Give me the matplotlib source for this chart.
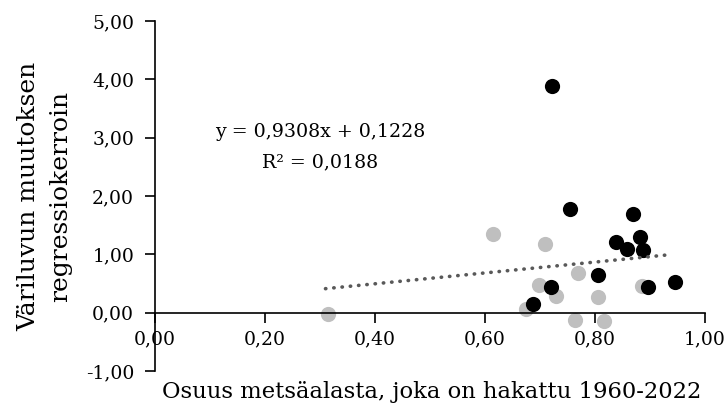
import matplotlib.pyplot as plt
from matplotlib.ticker import FuncFormatter
import numpy as np

# Osuus hakatusta metsäalasta (x) ja väriluvun muutoksen regressiokerroin (y)
x_grey = [0.314, 0.614, 0.710, 0.769, 0.699, 0.729, 0.806, 0.675, 0.764, 0.817, 0.886]
y_grey = [-0.02, 1.35, 1.18, 0.68, 0.47, 0.28, 0.26, 0.06, -0.13, -0.15, 0.45]

x_black = [0.721, 0.755, 0.870, 0.838, 0.881, 0.859, 0.887, 0.805, 0.720, 0.896, 0.945, 0.688]
y_black = [3.89, 1.78, 1.70, 1.22, 1.30, 1.10, 1.07, 0.65, 0.44, 0.44, 0.52, 0.15]

# Lineaarinen trendi
slope = 0.9308
intercept = 0.1228
r2 = 0.0188
trend_x = [0.31, 0.94]

x_ticks = [0.0, 0.2, 0.4, 0.6, 0.8, 1.0]
y_ticks = [-1, 0, 1, 2, 3, 4, 5]

plt.rcParams['font.family'] = ['DejaVu Serif']

fig = plt.figure(figsize=(7.28, 4.08), dpi=100)
ax = fig.add_axes([0.2129, 0.0907, 0.7555, 0.8578])

ax.scatter(x_grey, y_grey, s=120, color='#bfbfbf', zorder=2, linewidths=0)
ax.scatter(x_black, y_black, s=120, color='black', zorder=3, linewidths=0)

tx = np.array(trend_x)
ax.plot(tx, slope * tx + intercept, color='#595959', linestyle=(0, (0.1, 2.2)),
        linewidth=2.6, dash_capstyle='round', zorder=4)


def comma(v, pos=None):
    return f"{v:.2f}".replace('.', ',')


eq = f"y = {slope:.4f}x + {intercept:.4f}".replace('.', ',')
r2_txt = f"R² = {r2:.4f}".replace('.', ',')
ax.text(0.300, 2.84, eq + "\n" + r2_txt, fontsize=13.7, ha='center', va='center',
        multialignment='center', linespacing=1.85)

ax.set_xlim(0, 1.0)
ax.set_ylim(-1, 5)
ax.set_xticks(x_ticks)
ax.set_yticks(y_ticks)
ax.xaxis.set_major_formatter(FuncFormatter(comma))
ax.yaxis.set_major_formatter(FuncFormatter(comma))

ax.spines['top'].set_visible(False)
ax.spines['right'].set_visible(False)
ax.spines['bottom'].set_position(('data', 0))
ax.spines['left'].set_linewidth(1.2)
ax.spines['bottom'].set_linewidth(1.2)
ax.tick_params(axis='both', direction='out', length=7, width=1.2, labelsize=13.5)
ax.tick_params(axis='x', pad=6)
ax.tick_params(axis='y', pad=8)

ax.set_ylabel("Väriluvun muutoksen\nregressiokerroin", fontsize=18, linespacing=1.5)
ax.yaxis.set_label_coords(-0.150, 0.5)
ax.set_xlabel("Osuus metsäalasta, joka on hakattu 1960-2022", fontsize=16.3)
ax.xaxis.set_label_coords(0.503, -0.03)

fig.savefig('out.png', dpi=100)
